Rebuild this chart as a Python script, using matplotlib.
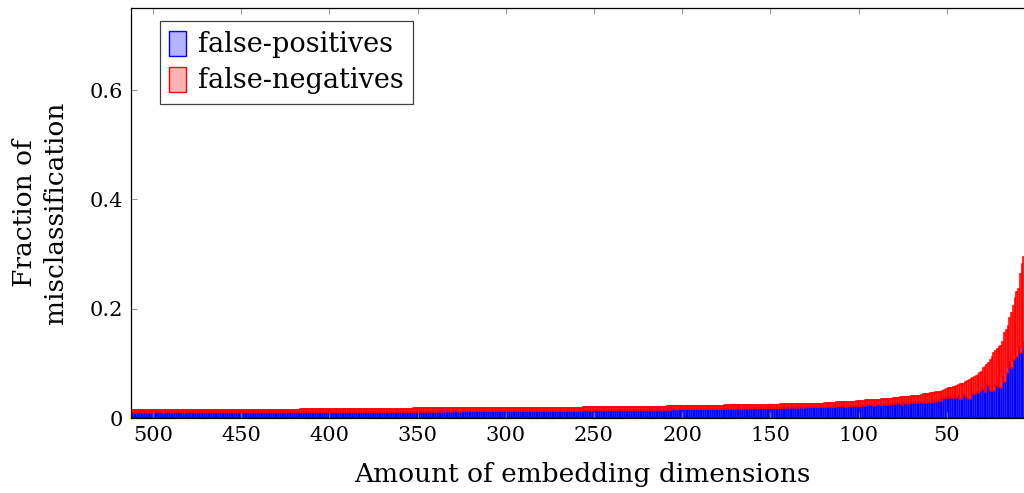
import numpy as np
import matplotlib
matplotlib.use("Agg")
import matplotlib.pyplot as plt
from matplotlib.patches import Patch

plt.rcParams['font.family'] = ['DejaVu Serif']

# number of embedding dimensions kept, from 512 down to 1
dims = list(range(512, 0, -1))

# fraction of false-positives for each dimension count (512 -> 1)
false_positives = [
    0.0101, 0.0099, 0.0102, 0.0100, 0.0103, 0.0101, 0.0098, 0.0102, 0.0104, 0.0100, 0.0101, 0.0103, 0.0099, 0.0102, 0.0101, 0.0103,
    0.0102, 0.0104, 0.0100, 0.0103, 0.0101, 0.0105, 0.0102, 0.0099, 0.0103, 0.0104, 0.0101, 0.0102, 0.0105, 0.0103, 0.0100, 0.0104,
    0.0103, 0.0105, 0.0102, 0.0104, 0.0106, 0.0101, 0.0104, 0.0103, 0.0105, 0.0102, 0.0106, 0.0104, 0.0103, 0.0105, 0.0107, 0.0102,
    0.0105, 0.0103, 0.0106, 0.0104, 0.0107, 0.0105, 0.0102, 0.0106, 0.0104, 0.0108, 0.0105, 0.0103, 0.0107, 0.0106, 0.0104, 0.0105,
    0.0106, 0.0108, 0.0104, 0.0107, 0.0105, 0.0109, 0.0106, 0.0104, 0.0108, 0.0107, 0.0105, 0.0109, 0.0106, 0.0108, 0.0104, 0.0107,
    0.0108, 0.0106, 0.0110, 0.0107, 0.0109, 0.0105, 0.0108, 0.0111, 0.0107, 0.0109, 0.0106, 0.0110, 0.0108, 0.0107, 0.0111, 0.0109,
    0.0110, 0.0108, 0.0112, 0.0109, 0.0111, 0.0113, 0.0108, 0.0110, 0.0112, 0.0109, 0.0111, 0.0108, 0.0113, 0.0110, 0.0112, 0.0109,
    0.0112, 0.0110, 0.0114, 0.0111, 0.0113, 0.0109, 0.0112, 0.0115, 0.0111, 0.0113, 0.0110, 0.0114, 0.0112, 0.0111, 0.0115, 0.0112,
    0.0114, 0.0112, 0.0116, 0.0113, 0.0115, 0.0111, 0.0114, 0.0117, 0.0113, 0.0115, 0.0112, 0.0116, 0.0114, 0.0113, 0.0117, 0.0114,
    0.0116, 0.0114, 0.0118, 0.0115, 0.0117, 0.0113, 0.0116, 0.0119, 0.0115, 0.0117, 0.0114, 0.0118, 0.0116, 0.0115, 0.0119, 0.0116,
    0.0118, 0.0116, 0.0120, 0.0117, 0.0119, 0.0115, 0.0118, 0.0121, 0.0117, 0.0119, 0.0116, 0.0120, 0.0118, 0.0117, 0.0121, 0.0118,
    0.0120, 0.0118, 0.0122, 0.0119, 0.0121, 0.0117, 0.0120, 0.0123, 0.0119, 0.0121, 0.0118, 0.0122, 0.0120, 0.0119, 0.0123, 0.0120,
    0.0122, 0.0120, 0.0124, 0.0121, 0.0123, 0.0119, 0.0122, 0.0125, 0.0121, 0.0123, 0.0120, 0.0124, 0.0122, 0.0121, 0.0125, 0.0122,
    0.0125, 0.0123, 0.0127, 0.0124, 0.0126, 0.0122, 0.0126, 0.0129, 0.0125, 0.0127, 0.0124, 0.0128, 0.0126, 0.0125, 0.0129, 0.0127,
    0.0129, 0.0127, 0.0131, 0.0128, 0.0130, 0.0126, 0.0130, 0.0133, 0.0129, 0.0131, 0.0128, 0.0132, 0.0130, 0.0129, 0.0133, 0.0131,
    0.0134, 0.0132, 0.0137, 0.0133, 0.0136, 0.0131, 0.0135, 0.0139, 0.0134, 0.0137, 0.0133, 0.0138, 0.0136, 0.0135, 0.0140, 0.0137,
    0.0140, 0.0138, 0.0143, 0.0139, 0.0142, 0.0137, 0.0141, 0.0145, 0.0140, 0.0143, 0.0139, 0.0144, 0.0142, 0.0141, 0.0146, 0.0143,
    0.0147, 0.0145, 0.0150, 0.0146, 0.0149, 0.0144, 0.0148, 0.0152, 0.0147, 0.0150, 0.0146, 0.0151, 0.0149, 0.0148, 0.0153, 0.0150,
    0.0152, 0.0150, 0.0155, 0.0151, 0.0154, 0.0149, 0.0153, 0.0157, 0.0152, 0.0155, 0.0151, 0.0156, 0.0154, 0.0153, 0.0158, 0.0155,
    0.0157, 0.0155, 0.0160, 0.0156, 0.0159, 0.0154, 0.0158, 0.0162, 0.0157, 0.0160, 0.0156, 0.0161, 0.0159, 0.0158, 0.0163, 0.0160,
    0.0164, 0.0162, 0.0167, 0.0163, 0.0166, 0.0160, 0.0165, 0.0170, 0.0164, 0.0168, 0.0163, 0.0169, 0.0166, 0.0165, 0.0171, 0.0168,
    0.0172, 0.0169, 0.0175, 0.0170, 0.0174, 0.0167, 0.0173, 0.0178, 0.0171, 0.0176, 0.0170, 0.0177, 0.0174, 0.0172, 0.0179, 0.0176,
    0.0181, 0.0178, 0.0185, 0.0179, 0.0184, 0.0176, 0.0183, 0.0188, 0.0180, 0.0186, 0.0179, 0.0187, 0.0184, 0.0182, 0.0190, 0.0186,
    0.0191, 0.0188, 0.0196, 0.0189, 0.0194, 0.0185, 0.0193, 0.0199, 0.0190, 0.0197, 0.0189, 0.0198, 0.0195, 0.0192, 0.0201, 0.0197,
    0.0204, 0.0200, 0.0209, 0.0202, 0.0207, 0.0197, 0.0206, 0.0213, 0.0203, 0.0210, 0.0201, 0.0212, 0.0208, 0.0205, 0.0215, 0.0210,
    0.0216, 0.0212, 0.0222, 0.0214, 0.0220, 0.0209, 0.0219, 0.0226, 0.0215, 0.0223, 0.0213, 0.0226, 0.0221, 0.0218, 0.0230, 0.0225,
    0.0236, 0.0231, 0.0243, 0.0234, 0.0241, 0.0228, 0.0240, 0.0248, 0.0235, 0.0245, 0.0233, 0.0250, 0.0244, 0.0240, 0.0255, 0.0262,
    0.0270, 0.0262, 0.0275, 0.0266, 0.0258, 0.0245, 0.0268, 0.0275, 0.0264, 0.0279, 0.0266, 0.0271, 0.0286, 0.0275, 0.0282, 0.0290,
    0.029, 0.028, 0.030, 0.027, 0.029, 0.030, 0.029, 0.031, 0.030, 0.032, 0.033, 0.031, 0.034, 0.036, 0.039, 0.037,
    0.038, 0.036, 0.040, 0.036, 0.038, 0.041, 0.034, 0.038, 0.044, 0.040, 0.036, 0.034, 0.042, 0.046, 0.044, 0.047,
    0.046, 0.049, 0.054, 0.051, 0.048, 0.063, 0.058, 0.050, 0.052, 0.049, 0.058, 0.062, 0.057, 0.054, 0.075, 0.066,
    0.082, 0.094, 0.103, 0.091, 0.106, 0.115, 0.112, 0.131, 0.118, 0.128, 0.137, 0.140, 0.150, 0.160, 0.170, 0.190,
]

# fraction of false-negatives for each dimension count (512 -> 1)
false_negatives = [
    0.0046, 0.0048, 0.0044, 0.0045, 0.0043, 0.0046, 0.0049, 0.0045, 0.0042, 0.0047, 0.0046, 0.0044, 0.0048, 0.0045, 0.0046, 0.0044,
    0.0045, 0.0043, 0.0047, 0.0044, 0.0046, 0.0042, 0.0045, 0.0048, 0.0044, 0.0043, 0.0046, 0.0045, 0.0042, 0.0044, 0.0047, 0.0043,
    0.0045, 0.0043, 0.0046, 0.0044, 0.0042, 0.0047, 0.0044, 0.0045, 0.0043, 0.0046, 0.0042, 0.0044, 0.0045, 0.0043, 0.0041, 0.0046,
    0.0044, 0.0046, 0.0043, 0.0045, 0.0042, 0.0044, 0.0047, 0.0043, 0.0045, 0.0041, 0.0044, 0.0046, 0.0042, 0.0043, 0.0045, 0.0044,
    0.0045, 0.0043, 0.0047, 0.0044, 0.0046, 0.0042, 0.0045, 0.0047, 0.0043, 0.0044, 0.0046, 0.0042, 0.0045, 0.0043, 0.0047, 0.0044,
    0.0045, 0.0047, 0.0043, 0.0046, 0.0044, 0.0048, 0.0045, 0.0042, 0.0046, 0.0044, 0.0047, 0.0043, 0.0045, 0.0046, 0.0042, 0.0045,
    0.0046, 0.0048, 0.0044, 0.0047, 0.0045, 0.0043, 0.0048, 0.0046, 0.0044, 0.0047, 0.0045, 0.0048, 0.0043, 0.0046, 0.0044, 0.0047,
    0.0048, 0.0050, 0.0046, 0.0049, 0.0047, 0.0051, 0.0048, 0.0045, 0.0049, 0.0047, 0.0050, 0.0046, 0.0048, 0.0049, 0.0045, 0.0048,
    0.0052, 0.0055, 0.0050, 0.0054, 0.0052, 0.0056, 0.0053, 0.0050, 0.0055, 0.0053, 0.0056, 0.0052, 0.0054, 0.0055, 0.0051, 0.0054,
    0.0057, 0.0059, 0.0055, 0.0058, 0.0056, 0.0060, 0.0057, 0.0054, 0.0058, 0.0056, 0.0059, 0.0055, 0.0057, 0.0058, 0.0054, 0.0057,
    0.0056, 0.0058, 0.0054, 0.0057, 0.0055, 0.0059, 0.0056, 0.0053, 0.0057, 0.0055, 0.0058, 0.0054, 0.0056, 0.0057, 0.0053, 0.0056,
    0.0055, 0.0057, 0.0053, 0.0056, 0.0054, 0.0058, 0.0055, 0.0052, 0.0056, 0.0054, 0.0057, 0.0053, 0.0055, 0.0056, 0.0052, 0.0055,
    0.0054, 0.0056, 0.0052, 0.0055, 0.0053, 0.0057, 0.0054, 0.0051, 0.0055, 0.0053, 0.0056, 0.0052, 0.0054, 0.0055, 0.0051, 0.0054,
    0.0053, 0.0055, 0.0051, 0.0054, 0.0052, 0.0056, 0.0052, 0.0050, 0.0054, 0.0052, 0.0055, 0.0051, 0.0053, 0.0054, 0.0050, 0.0052,
    0.0052, 0.0054, 0.0050, 0.0053, 0.0051, 0.0055, 0.0051, 0.0049, 0.0053, 0.0051, 0.0054, 0.0050, 0.0052, 0.0053, 0.0049, 0.0051,
    0.0053, 0.0055, 0.0050, 0.0054, 0.0051, 0.0056, 0.0052, 0.0049, 0.0054, 0.0051, 0.0055, 0.0050, 0.0052, 0.0053, 0.0049, 0.0052,
    0.0054, 0.0056, 0.0051, 0.0055, 0.0052, 0.0057, 0.0053, 0.0050, 0.0055, 0.0052, 0.0056, 0.0051, 0.0053, 0.0054, 0.0050, 0.0053,
    0.0053, 0.0055, 0.0050, 0.0054, 0.0051, 0.0056, 0.0052, 0.0049, 0.0054, 0.0051, 0.0055, 0.0050, 0.0052, 0.0053, 0.0049, 0.0052,
    0.0055, 0.0057, 0.0052, 0.0056, 0.0053, 0.0058, 0.0054, 0.0051, 0.0056, 0.0053, 0.0057, 0.0052, 0.0054, 0.0055, 0.0051, 0.0054,
    0.0058, 0.0060, 0.0055, 0.0059, 0.0056, 0.0061, 0.0057, 0.0054, 0.0059, 0.0056, 0.0060, 0.0055, 0.0057, 0.0058, 0.0054, 0.0057,
    0.0061, 0.0063, 0.0058, 0.0062, 0.0059, 0.0065, 0.0060, 0.0056, 0.0062, 0.0058, 0.0063, 0.0057, 0.0060, 0.0061, 0.0055, 0.0059,
    0.0061, 0.0064, 0.0058, 0.0063, 0.0059, 0.0066, 0.0060, 0.0056, 0.0063, 0.0058, 0.0064, 0.0057, 0.0060, 0.0062, 0.0055, 0.0059,
    0.0062, 0.0065, 0.0058, 0.0064, 0.0059, 0.0067, 0.0060, 0.0056, 0.0064, 0.0058, 0.0065, 0.0057, 0.0061, 0.0063, 0.0055, 0.0060,
    0.0061, 0.0064, 0.0057, 0.0063, 0.0058, 0.0067, 0.0059, 0.0054, 0.0063, 0.0057, 0.0065, 0.0056, 0.0060, 0.0062, 0.0054, 0.0058,
    0.0058, 0.0062, 0.0054, 0.0061, 0.0056, 0.0066, 0.0058, 0.0052, 0.0062, 0.0056, 0.0065, 0.0055, 0.0060, 0.0064, 0.0056, 0.0062,
    0.0068, 0.0074, 0.0066, 0.0075, 0.0071, 0.0083, 0.0074, 0.0069, 0.0081, 0.0075, 0.0086, 0.0076, 0.0082, 0.0087, 0.0078, 0.0085,
    0.0085, 0.0092, 0.0082, 0.0093, 0.0088, 0.0103, 0.0093, 0.0087, 0.0102, 0.0094, 0.0108, 0.0094, 0.0102, 0.0108, 0.0096, 0.0093,
    0.0098, 0.0108, 0.0097, 0.0108, 0.0120, 0.0135, 0.0115, 0.0110, 0.0124, 0.0112, 0.0128, 0.0125, 0.0112, 0.0126, 0.0122, 0.0118,
    0.013, 0.015, 0.013, 0.017, 0.015, 0.015, 0.016, 0.015, 0.017, 0.015, 0.015, 0.017, 0.016, 0.016, 0.014, 0.017,
    0.017, 0.018, 0.016, 0.021, 0.020, 0.019, 0.028, 0.024, 0.019, 0.026, 0.032, 0.035, 0.029, 0.027, 0.031, 0.030,
    0.033, 0.034, 0.031, 0.040, 0.046, 0.034, 0.043, 0.056, 0.060, 0.069, 0.065, 0.065, 0.072, 0.077, 0.064, 0.089,
    0.079, 0.074, 0.080, 0.101, 0.099, 0.104, 0.119, 0.105, 0.146, 0.154, 0.158, 0.170, 0.180, 0.190, 0.210, 0.230,
]

x_ticks = [500, 450, 400, 350, 300, 250, 200, 150, 100, 50]
y_ticks = [0, 0.2, 0.4, 0.6]

blue_fill = (0.7, 0.7, 1.0)
red_fill = (1.0, 0.7, 0.7)

fig = plt.figure(figsize=(10.24, 4.93), dpi=100)
W, H = 1024, 493
ax = fig.add_axes([131 / W, 1 - 418 / H, 903 / W, 410 / H])

ax.bar(dims, false_positives, width=1.0, color=blue_fill, edgecolor='blue',
       linewidth=1.15, label='false-positives')
ax.bar(dims, false_negatives, width=1.0, bottom=false_positives, color=red_fill,
       edgecolor='red', linewidth=1.15, label='false-negatives')

ax.set_xlim(512.5, 0.5)
ax.set_ylim(0, 0.75)
ax.set_xticks(x_ticks)
ax.set_yticks(y_ticks)
ax.set_yticklabels(['0', '0.2', '0.4', '0.6'])
ax.tick_params(direction='in', length=4, width=0.6, color='0.5', labelsize=15,
               top=True, right=True, pad=6)
for s in ax.spines.values():
    s.set_linewidth(0.9)
    s.set_zorder(3)

ax.set_xlabel('Amount of embedding dimensions', fontsize=19, labelpad=12)
ax.set_ylabel('Fraction of\nmisclassification', fontsize=19, labelpad=15,
              linespacing=1.3)

handles = [Patch(facecolor=blue_fill, edgecolor='blue', linewidth=1.0),
           Patch(facecolor=red_fill, edgecolor='red', linewidth=1.0)]
leg = ax.legend(handles, ['false-positives', 'false-negatives'],
                loc='upper left', bbox_to_anchor=(0.032, 0.968),
                borderaxespad=0, fontsize=19.5, fancybox=False, framealpha=1,
                edgecolor='0.25', handlelength=0.6, handleheight=1.05,
                handletextpad=0.45, borderpad=0.35, labelspacing=0.3)
leg.get_frame().set_linewidth(0.9)

fig.savefig('out.png', dpi=100)
